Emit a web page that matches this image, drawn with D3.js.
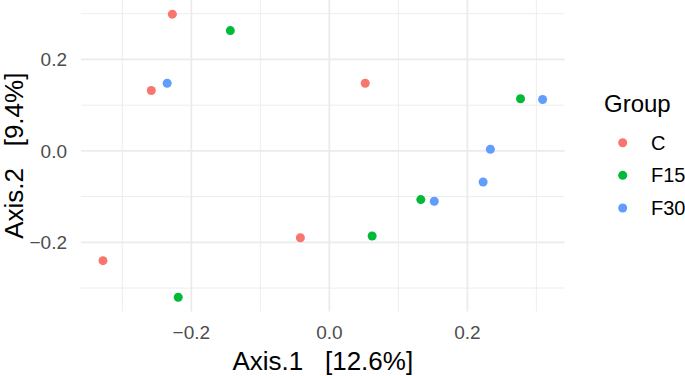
<!DOCTYPE html>
<html>
<head>
<meta charset="utf-8">
<script src="https://cdn.jsdelivr.net/npm/d3@7"></script>
<style>
  body { margin: 0; background: #fff; }
  svg { display: block; font-family: "Liberation Sans", Arial, sans-serif; }
</style>
</head>
<body>
<div id="chart"></div>
<script>
const groups = ["C", "F15", "F30"];
const groupColors = ["#F8766D", "#00BA38", "#619CFF"];

// one entry per sample
const sampleGroup = ["C", "C", "C", "C", "C",
                     "F15", "F15", "F15", "F15", "F15",
                     "F30", "F30", "F30", "F30", "F30"];
const axis1 = [-0.2275, -0.258, -0.042, -0.328, 0.052,
               -0.1435, -0.219, 0.277, 0.1325, 0.062,
               -0.235, 0.309, 0.2333, 0.2228, 0.152];
const axis2 = [0.299, 0.132, -0.190, -0.240, 0.148,
               0.263, -0.320, 0.114, -0.1065, -0.186,
               0.148, 0.1125, 0.0037, -0.068, -0.110];

const xTicks = [-0.2, 0, 0.2];
const yTicks = [-0.2, 0, 0.2];
const xMinor = [-0.3, -0.1, 0.1, 0.3];
const yMinor = [-0.3, -0.1, 0.1, 0.3];

const xTitle = "Axis.1   [12.6%]";
const yTitle = "Axis.2   [9.4%]";
const legendTitle = "Group";

const width = 685, height = 376;
const panel = { left: 81, right: 564.6, top: 0, bottom: 311.4 };

const svg = d3.select("#chart").append("svg")
  .attr("width", width)
  .attr("height", height);

// ggplot style 5% expansion
function expand(vals) {
  const [lo, hi] = d3.extent(vals);
  const pad = (hi - lo) * 0.05;
  return [lo - pad, hi + pad];
}

const x = d3.scaleLinear().domain(expand(axis1)).range([panel.left, panel.right]);
const y = d3.scaleLinear().domain(expand(axis2)).range([panel.bottom, panel.top]);
const color = d3.scaleOrdinal().domain(groups).range(groupColors);
const fmt = d3.format(".1f");

const grid = svg.append("g");
grid.selectAll(".xminor").data(xMinor).join("line")
  .attr("x1", d => x(d)).attr("x2", d => x(d))
  .attr("y1", panel.top).attr("y2", panel.bottom)
  .attr("stroke", "#EBEBEB").attr("stroke-width", 0.9);
grid.selectAll(".yminor").data(yMinor).join("line")
  .attr("x1", panel.left).attr("x2", panel.right)
  .attr("y1", d => y(d)).attr("y2", d => y(d))
  .attr("stroke", "#EBEBEB").attr("stroke-width", 0.9);
grid.selectAll(".xmajor").data(xTicks).join("line")
  .attr("x1", d => x(d)).attr("x2", d => x(d))
  .attr("y1", panel.top).attr("y2", panel.bottom)
  .attr("stroke", "#EBEBEB").attr("stroke-width", 1.8);
grid.selectAll(".ymajor").data(yTicks).join("line")
  .attr("x1", panel.left).attr("x2", panel.right)
  .attr("y1", d => y(d)).attr("y2", d => y(d))
  .attr("stroke", "#EBEBEB").attr("stroke-width", 1.8);

// tick labels
svg.append("g").selectAll("text").data(xTicks).join("text")
  .attr("x", d => x(d))
  .attr("y", 339)
  .attr("text-anchor", "middle")
  .attr("fill", "#4D4D4D")
  .style("font-size", "19px")
  .text(d => fmt(d));

svg.append("g").selectAll("text").data(yTicks).join("text")
  .attr("x", 67)
  .attr("y", d => y(d))
  .attr("dy", "0.35em")
  .attr("text-anchor", "end")
  .attr("fill", "#4D4D4D")
  .style("font-size", "19px")
  .text(d => fmt(d));

// axis titles
svg.append("text")
  .attr("x", (panel.left + panel.right) / 2)
  .attr("y", 370)
  .attr("text-anchor", "middle")
  .style("font-size", "26px")
  .style("white-space", "pre")
  .text(xTitle);

svg.append("text")
  .attr("transform", `translate(23,${(panel.top + panel.bottom) / 2}) rotate(-90)`)
  .attr("text-anchor", "middle")
  .style("font-size", "26px")
  .style("white-space", "pre")
  .text(yTitle);

// points
const idx = d3.range(axis1.length);
svg.append("g").selectAll("circle").data(idx).join("circle")
  .attr("cx", i => x(axis1[i]))
  .attr("cy", i => y(axis2[i]))
  .attr("r", 4.5)
  .attr("fill", i => color(sampleGroup[i]));

// legend
const legend = svg.append("g");
legend.append("text")
  .attr("x", 604)
  .attr("y", 112)
  .style("font-size", "24px")
  .text(legendTitle);

const keyY = d3.scalePoint().domain(groups).range([142.7, 208]);
const items = legend.selectAll(".item").data(groups).join("g")
  .attr("transform", d => `translate(0,${keyY(d)})`);
items.append("circle")
  .attr("cx", 622.7)
  .attr("r", 4.5)
  .attr("fill", d => color(d));
items.append("text")
  .attr("x", 651)
  .attr("dy", "0.35em")
  .style("font-size", "20px")
  .text(d => d);
</script>
</body>
</html>
